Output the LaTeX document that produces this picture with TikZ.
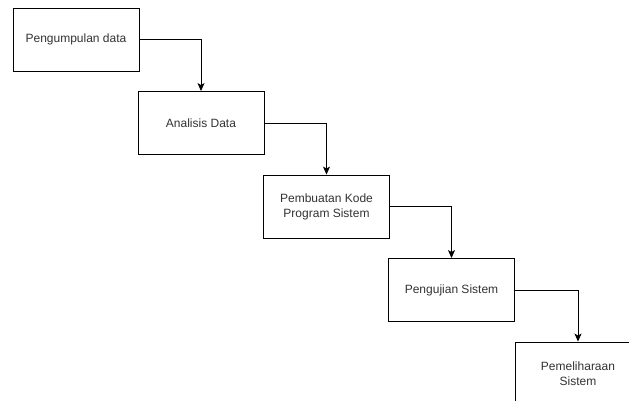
\documentclass[tikz,border=0pt]{standalone}
\usepackage{fontspec}
\setmainfont{Liberation Sans}
\usetikzlibrary{arrows.meta}
\begin{document}
\begin{tikzpicture}[x=1pt,y=-1pt,
  stepbox/.style={draw=black,line width=0.9pt,minimum width=126pt,minimum height=63pt,inner sep=0pt,align=center,font=\fontsize{12pt}{15pt}\selectfont,text=black!80},
  flow/.style={draw=black,line width=0.9pt,-{Stealth[length=8pt,width=7pt,inset=2pt]}}]
\useasboundingbox (0,0) rectangle (629,401);
\clip (0,0) rectangle (629,401);
\fill[white] (0,0) rectangle (629,401);
\node[stepbox] (b1) at (76,39.5) {Pengumpulan data};
\node[stepbox] (b2) at (201,123) {Analisis Data};
\node[stepbox] (b3) at (326.5,206.5) {Pembuatan Kode\\Program Sistem};
\node[stepbox] (b4) at (451.5,290) {Pengujian Sistem};
\node[stepbox] (b5) at (578,373.5) {Pemeliharaan\\Sistem};
\draw[flow] (b1.east) -| (b2.north);
\draw[flow] (b2.east) -| (b3.north);
\draw[flow] (b3.east) -| (b4.north);
\draw[flow] (b4.east) -| (b5.north);
\end{tikzpicture}
\end{document}
